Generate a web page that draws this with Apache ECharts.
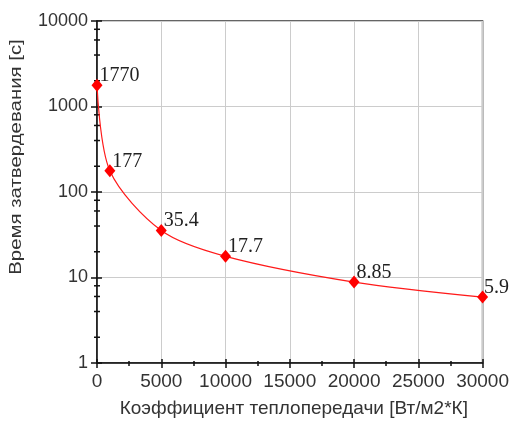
<!DOCTYPE html>
<html>
<head>
<meta charset="utf-8">
<script src="https://cdn.jsdelivr.net/npm/echarts@6/dist/echarts.min.js"></script>
<style>
  html, body { margin: 0; padding: 0; background: #fff; }
  #chart { width: 512px; height: 423px; }
</style>
</head>
<body>
<div id="chart"></div>
<script>
// Solidification time versus heat transfer coefficient
const heatTransfer = [0, 1000, 5000, 10000, 20000, 30000];
const solidTime = [1770, 177, 35.4, 17.7, 8.85, 5.9];
const yMinorTicks = [2, 4, 6, 8, 20, 40, 60, 80, 200, 400, 600, 800, 2000, 4000, 6000, 8000];

const xTitle = 'Коэффициент теплопередачи [Вт/м2*К]';
const yTitle = 'Время затвердевания [с]';

const sans = '"Liberation Sans", Arial, sans-serif';
const serif = '"Liberation Serif", "Times New Roman", serif';

const chart = echarts.init(document.getElementById('chart'), null, { renderer: 'canvas' });

const gridLine = { show: true, lineStyle: { color: '#cccccc', width: 1 } };
const axisDark = { show: true, lineStyle: { color: '#111', width: 1.5 } };
const plain = v => String(v);

chart.setOption({
  animation: false,
  backgroundColor: '#ffffff',
  grid: {
    left: 97, top: 21, right: 27, bottom: 55,
    show: true, borderColor: '#333', borderWidth: 1.5, backgroundColor: 'transparent'
  },
  graphic: [{
    type: 'text',
    x: 16, y: 157,
    rotation: Math.PI / 2,
    scaleX: 1.2,
    style: {
      text: yTitle, font: '17px ' + sans, fill: '#333',
      align: 'center', verticalAlign: 'middle'
    }
  }],
  xAxis: [{
    type: 'value', min: 0, max: 30000, interval: 5000,
    name: xTitle, nameLocation: 'middle', nameGap: 36,
    nameTextStyle: { fontFamily: sans, fontSize: 19, color: '#333', padding: [0, 0, 0, 8] },
    axisLine: axisDark,
    axisTick: { show: true, length: 5, lineStyle: { color: '#111', width: 1.5 } },
    minorTick: { show: true, splitNumber: 2, length: 3, lineStyle: { color: '#111', width: 1.5 } },
    axisLabel: { fontFamily: sans, fontSize: 19, color: '#333', margin: 9, formatter: plain },
    splitLine: gridLine
  }, {
    type: 'value', min: 0, max: 30000, interval: 5000, position: 'bottom',
    axisLine: { show: false },
    axisTick: { show: true, inside: true, length: 4, lineStyle: { color: '#111', width: 1.5 } },
    minorTick: { show: true, splitNumber: 2, length: 2, lineStyle: { color: '#111', width: 1.5 } },
    axisLabel: { show: false },
    splitLine: { show: false }
  }],
  yAxis: [{
    type: 'log', logBase: 10, min: 1, max: 10000,
    axisLine: axisDark,
    axisTick: { show: true, length: 6, lineStyle: { color: '#111', width: 1.5 } },
    axisLabel: { fontFamily: sans, fontSize: 18, color: '#333', margin: 9, formatter: plain },
    splitLine: gridLine
  }, {
    type: 'log', logBase: 10, min: 1, max: 10000, position: 'left',
    axisLine: { show: false },
    axisTick: { show: true, inside: true, length: 5, lineStyle: { color: '#111', width: 1.5 } },
    axisLabel: { show: false },
    splitLine: { show: false }
  }],
  series: [{
    type: 'custom',
    coordinateSystem: 'cartesian2d',
    clip: false,
    silent: true,
    z: 5,
    data: yMinorTicks.map(v => [0, v]),
    renderItem: function (params, api) {
      const p = api.coord([api.value(0), api.value(1)]);
      return {
        type: 'line',
        shape: { x1: p[0] - 3, y1: p[1], x2: p[0] + 3, y2: p[1] },
        style: { stroke: '#111', lineWidth: 1.5 }
      };
    }
  }, {
    type: 'line',
    data: heatTransfer.map((x, i) => [x, solidTime[i]]),
    smooth: 0.3,
    z: 10,
    symbol: 'diamond',
    symbolSize: [11, 13],
    lineStyle: { color: '#ff1a1a', width: 1.2 },
    itemStyle: { color: '#ff0000' },
    label: {
      show: true,
      position: [8, 7],
      align: 'left',
      verticalAlign: 'bottom',
      fontFamily: serif,
      fontSize: 20,
      color: '#222',
      formatter: p => String(p.value[1])
    },
    // keep the last label inside the canvas
    labelLayout: function (params) {
      const over = params.labelRect.x + params.labelRect.width - 509;
      return over > 0 ? { dx: -over } : {};
    }
  }]
});
</script>
</body>
</html>
